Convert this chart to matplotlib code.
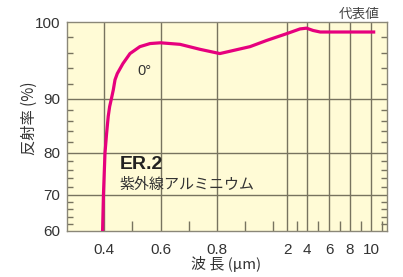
import matplotlib
matplotlib.use("Agg")
import matplotlib.pyplot as plt
import numpy as np

# ── datos ────────────────────────────────────────────────────────────────────
wavelength = [0.395, 0.398, 0.4035, 0.4090, 0.4117, 0.415, 0.420, 0.426,
              0.433, 0.439, 0.447, 0.467, 0.492, 0.527, 0.563, 0.60, 0.669,
              0.74, 0.81, 0.918, 0.977, 2.0, 3.3, 3.95, 4.55, 5.2, 6.0, 8.0,
              10.4]
reflectance = [60, 70, 80, 83.5, 85, 86.8, 88.6, 90,
               91.2, 92.5, 93.3, 94.6, 95.9, 96.8, 97.2, 97.3, 97.1,
               96.45, 95.9, 96.8, 97.6, 98.5, 99.1, 99.2, 98.9, 98.7, 98.7,
               98.7, 98.7]

x_major = [0.4, 0.6, 0.8, 2, 4, 6, 8, 10]
x_major_labels = ["0.4", "0.6", "0.8", "2", "4", "6", "8", "10"]
x_minor = [0.5, 0.7, 0.9, 1.0, 3, 5, 7, 9, 11]
y_major = [60, 70, 80, 90, 100]
y_minor = [62, 64, 66, 68, 72, 74, 76, 78, 82, 84, 86, 88, 92, 94, 96, 98]

# eje x y eje y "a trozos", como en el catálogo
X_KNOTS = [0.27, 0.4, 0.8, 1.0, 2, 4, 6, 8, 10, 11.5]
X_PIX = [67, 104, 217, 273, 287, 307, 329, 350, 371, 387]
Y_KNOTS = [60, 70, 80, 90, 100]
Y_PIX = [0, 36, 78, 132, 209]

LINE_C = "#e6007e"
GRID_C = "#77735f"
TEXT_C = "#333333"
NUM_FONT = ["Liberation Sans Narrow", "Liberation Sans", "DejaVu Sans"]
JP_FONT = ["Noto Sans CJK JP", "DejaVu Sans"]


def fwd(k, p):
    return lambda v: np.interp(v, k, p)


def inv(k, p):
    return lambda v: np.interp(v, p, k)


W, H = 403, 277
fig = plt.figure(figsize=(W / 100, H / 100), dpi=100)
ax = fig.add_axes([67 / W, (H - 231) / H, 320 / W, 209 / H])
ax.set_facecolor("#fffbd6")
ax.set_xscale("function", functions=(fwd(X_KNOTS, X_PIX), inv(X_KNOTS, X_PIX)))
ax.set_yscale("function", functions=(fwd(Y_KNOTS, Y_PIX), inv(Y_KNOTS, Y_PIX)))
ax.set_xlim(0.27, 11.5)
ax.set_ylim(60, 100)

for xv in x_major:
    ax.axvline(xv, color=GRID_C, lw=1.0, zorder=1)
for yv in y_major[1:-1]:
    ax.axhline(yv, color=GRID_C, lw=1.0, zorder=1)

ax.plot(wavelength, reflectance, "-", color=LINE_C, lw=2.3,
        solid_capstyle="butt", solid_joinstyle="round", zorder=3)

ax.set_xticks(x_major, x_major_labels)
ax.set_xticks(x_minor, minor=True)
ax.set_yticks(y_major, [str(v) for v in y_major])
ax.set_yticks(y_minor, minor=True)
ax.tick_params(axis="both", which="major", length=0, labelcolor=TEXT_C,
               labelsize=11)
ax.tick_params(axis="x", which="major", pad=9)
ax.tick_params(axis="y", which="major", pad=5)
ax.tick_params(axis="x", which="minor", direction="in", length=7, width=1,
               color=GRID_C, top=False)
ax.tick_params(axis="y", which="minor", direction="in", length=4.3, width=1,
               color=GRID_C, left=True, right=True)
for lab in ax.get_xticklabels() + ax.get_yticklabels():
    lab.set_family(NUM_FONT)
for sp in ax.spines.values():
    sp.set_color("#8a8778")
    sp.set_linewidth(1.0)


def fx(px):
    return (px - 67) / 320


def fy(py):
    return (231 - py) / 209


ax.set_xlabel("波 長 (µm)", family=JP_FONT, fontsize=10.8, color=TEXT_C)
ax.set_ylabel("反射率 (%)", family=JP_FONT, fontsize=11, color=TEXT_C)
ax.xaxis.set_label_coords(fx(226), fy(256))
ax.yaxis.set_label_coords(fx(38), fy(118))

ax.text(fx(137), fy(71), "0°", family=NUM_FONT, fontsize=10.5, color=TEXT_C,
        ha="left", va="center", transform=ax.transAxes)
ax.text(fx(120), fy(164.5), "ER.2", family="Liberation Sans", weight="bold",
        fontsize=14, color="#222222", ha="left", va="center",
        transform=ax.transAxes)
ax.text(fx(119), fy(185), "紫外線アルミニウム", family=JP_FONT, fontsize=10.8,
        color=TEXT_C, ha="left", va="center", transform=ax.transAxes)
fig.text(380 / W, 1 - 14 / H, "代表値", family=JP_FONT, fontsize=9.8,
         color="#444444", ha="right", va="center")

fig.savefig("out.png", dpi=100)
